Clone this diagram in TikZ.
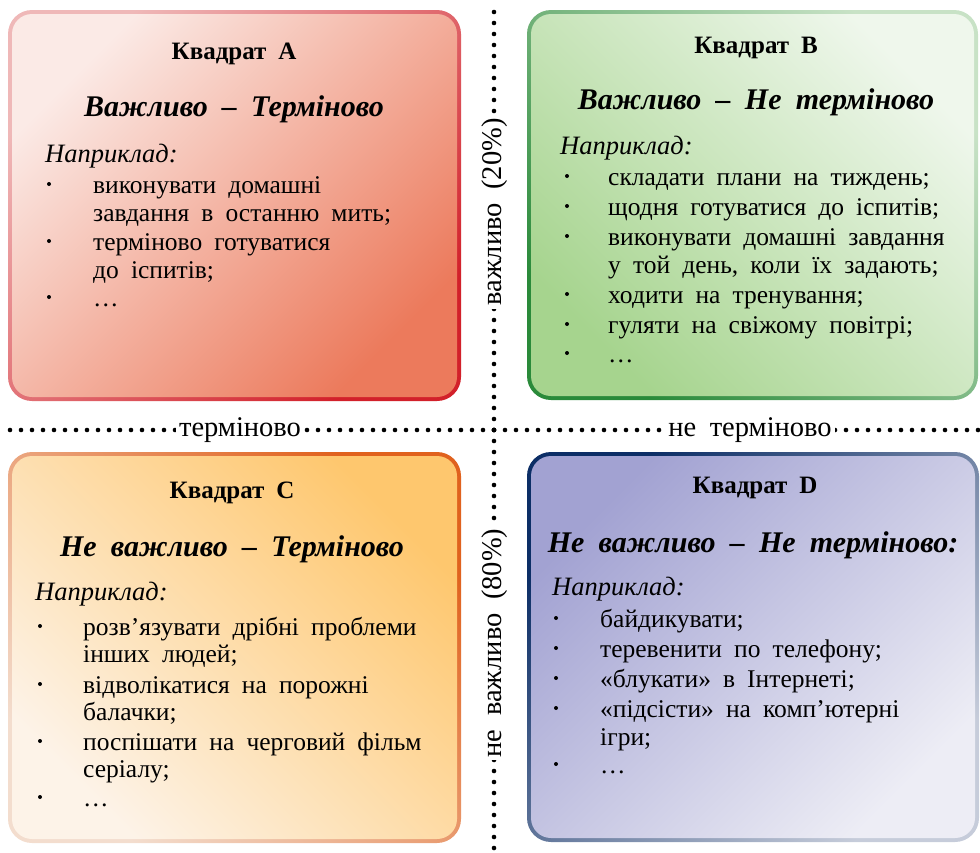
\documentclass[tikz,border=0pt]{standalone}
\usepackage{fontspec}
\setmainfont[WordSpace=1.9]{Liberation Serif}
\begin{document}
\begin{tikzpicture}[x=1pt,y=-1pt,
  every node/.style={inner sep=0pt},
  ttl/.style={font=\fontsize{25}{29}\selectfont\bfseries, anchor=base},
  sub/.style={font=\fontsize{30}{34}\selectfont\bfseries\itshape, anchor=base},
  ex/.style={font=\fontsize{26.5}{30}\selectfont\itshape, anchor=base west},
  ln/.style={font=\fontsize{25.5}{29}\selectfont, anchor=base west},
  bul/.style={circle, fill=black, minimum size=4pt},
  axlbl/.style={font=\fontsize{28.5}{32}\selectfont, fill=white, inner xsep=3pt, inner ysep=2pt, anchor=base},
  dots/.style={line width=4.6pt, line cap=round, dash pattern=on 0pt off 11pt}
]
\useasboundingbox (0,0) rectangle (980,852);
% dotted axes
\coordinate (c) at (494,430);
\coordinate (vt) at (494,1);
\coordinate (vb) at (494,852);
\coordinate (hl) at (4,430);
\coordinate (hr) at (980,430);
\draw[dots] (c) -- (vt);
\draw[dots] (c) -- (vb);
\draw[dots] (c) -- (hl);
\draw[dots] (c) -- (hr);
\node[axlbl] (urg) at (240,436) {терміново};
\node[axlbl] (nurg) at (750,436) {не терміново};
\node[axlbl, rotate=90] (imp) at (501,212) {важливо (20\%)};
\node[axlbl, rotate=90] (nimp) at (501,643) {не важливо (80\%)};

% boxes
\definecolor{aB1}{HTML}{EFB8B8}\definecolor{aB2}{HTML}{D2202A}
\definecolor{aF1}{HTML}{FBEAE6}\definecolor{aF2}{HTML}{EC7A5C}
\definecolor{bB1}{HTML}{C8E2C6}\definecolor{bB2}{HTML}{2A8A3A}
\definecolor{bF1}{HTML}{EFF7EC}\definecolor{bF2}{HTML}{A6D48E}
\definecolor{cB1}{HTML}{E0621E}\definecolor{cB2}{HTML}{F3DDCE}
\definecolor{cF1}{HTML}{FEC76E}\definecolor{cF2}{HTML}{FDF3E8}
\definecolor{dB1}{HTML}{0C2E66}\definecolor{dB2}{HTML}{C6CCDA}
\definecolor{dF1}{HTML}{A2A2D2}\definecolor{dF2}{HTML}{EDEDF5}

\shade[rounded corners=24pt, top color=aB1, bottom color=aB2, shading angle=45] (8,10) rectangle (461,401);
\shade[rounded corners=20pt, top color=aF1, bottom color=aF2, shading angle=45] (12,14) rectangle (457,397);
\shade[rounded corners=24pt, top color=bB1, bottom color=bB2, shading angle=-45] (527,10) rectangle (978,400);
\shade[rounded corners=20pt, top color=bF1, bottom color=bF2, shading angle=-45] (531,14) rectangle (974,396);
\shade[rounded corners=24pt, top color=cB1, bottom color=cB2, shading angle=-45] (8,452) rectangle (461,843);
\shade[rounded corners=20pt, top color=cF1, bottom color=cF2, shading angle=-45] (12,456) rectangle (457,839);
\shade[rounded corners=24pt, top color=dB1, bottom color=dB2, shading angle=45] (527,452) rectangle (979,842);
\shade[rounded corners=20pt, top color=dF1, bottom color=dF2, shading angle=45] (531,456) rectangle (975,838);

% Box A
\node[ttl] (tA) at (234,59) {Квадрат A};
\node[sub] (sA) at (234,116) {Важливо – Терміново};
\node[ex] (eA) at (45,162) {Наприклад:};
\node[bul] (bA1) at (49,184) {};
\node[ln] (lA1) at (93,193) {виконувати домашні};
\node[ln] (lA2) at (93,221) {завдання в останню мить;};
\node[bul] (bA2) at (49,241) {};
\node[ln] (lA3) at (93,250) {терміново готуватися};
\node[ln] (lA4) at (93,278) {до іспитів;};
\node[bul] (bA3) at (49,297) {};
\node[ln] (lA5) at (93,306) {…};

% Box B
\node[ttl] (tB) at (756,53) {Квадрат B};
\node[sub] (sB) at (756,109) {Важливо – Не терміново};
\node[ex] (eB) at (560,154) {Наприклад:};
\node[bul] (bB1) at (567,176) {};
\node[ln] (lB1) at (608,185) {складати плани на тиждень;};
\node[bul] (bB2) at (567,206) {};
\node[ln] (lB2) at (608,215) {щодня готуватися до іспитів;};
\node[bul] (bB3) at (567,236) {};
\node[ln] (lB3) at (608,245) {виконувати домашні завдання};
\node[ln] (lB4) at (608,273) {у той день, коли їх задають;};
\node[bul] (bB4) at (567,294) {};
\node[ln] (lB5) at (608,303) {ходити на тренування;};
\node[bul] (bB5) at (567,324) {};
\node[ln] (lB6) at (608,333) {гуляти на свіжому повітрі;};
\node[bul] (bB6) at (567,353) {};
\node[ln] (lB7) at (608,362) {…};

% Box C
\node[ttl] (tC) at (232,498) {Квадрат C};
\node[sub] (sC) at (232,556) {Не важливо – Терміново};
\node[ex] (eC) at (35,600) {Наприклад:};
\node[bul] (bC1) at (40,626) {};
\node[ln] (lC1) at (83,635) {розв’язувати дрібні проблеми};
\node[ln] (lC2) at (83,662) {інших людей;};
\node[bul] (bC2) at (40,684) {};
\node[ln] (lC3) at (83,693) {відволікатися на порожні};
\node[ln] (lC4) at (83,720) {балачки;};
\node[bul] (bC3) at (40,741) {};
\node[ln] (lC5) at (83,750) {поспішати на черговий фільм};
\node[ln] (lC6) at (83,777) {серіалу;};
\node[bul] (bC4) at (40,797) {};
\node[ln] (lC7) at (83,806) {…};

% Box D
\node[ttl] (tD) at (755,493) {Квадрат D};
\node[sub] (sD) at (753,552) {Не важливо – Не терміново:};
\node[ex] (eD) at (552,595) {Наприклад:};
\node[bul] (bD1) at (556,618) {};
\node[ln] (lD1) at (600,627) {байдикувати;};
\node[bul] (bD2) at (556,648) {};
\node[ln] (lD2) at (600,657) {теревенити по телефону;};
\node[bul] (bD3) at (556,678) {};
\node[ln] (lD3) at (600,687) {«блукати» в Інтернеті;};
\node[bul] (bD4) at (556,708) {};
\node[ln] (lD4) at (600,717) {«підсісти» на комп’ютерні};
\node[ln] (lD5) at (600,745) {ігри;};
\node[bul] (bD5) at (556,764) {};
\node[ln] (lD6) at (600,773) {…};
\end{tikzpicture}
\end{document}
